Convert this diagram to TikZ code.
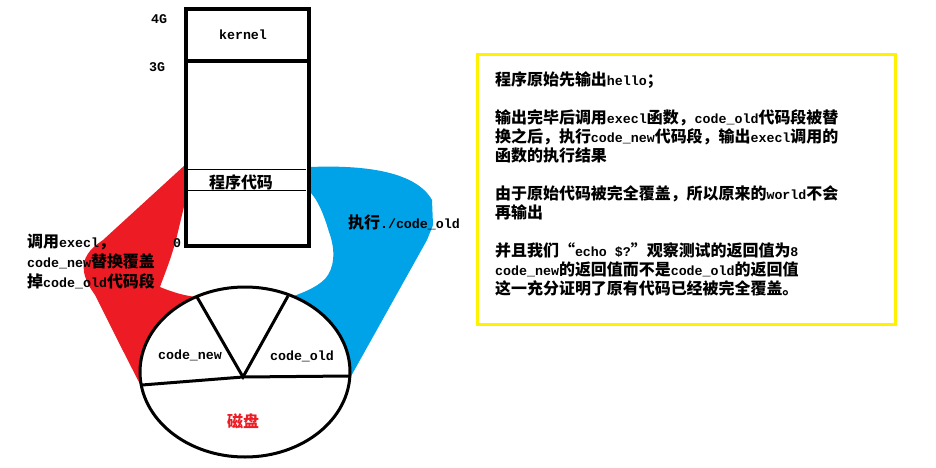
\documentclass[tikz,border=0pt]{standalone}
\usepackage{fontspec}
\setmainfont{Liberation Mono}
\newfontfamily\cjk{Noto Sans CJK SC}[Scale=1.2]
\newcommand\cn[1]{{\cjk #1}}
\definecolor{paintred}{RGB}{237,28,36}
\definecolor{paintblue}{RGB}{0,162,232}
\definecolor{paintyellow}{RGB}{255,242,0}

\begin{document}
\begin{tikzpicture}[x=1pt,y=-1pt,
    every node/.style={inner sep=0pt,font=\fontsize{13.3pt}{19pt}\selectfont\bfseries},
    wall/.style={line width=4pt},
    thin/.style={line width=1pt},
    disk/.style={line width=3pt,fill=white},
    note/.style={align=left,anchor=north west},
    frame/.style={draw=paintyellow,line width=3pt}]
    \useasboundingbox[fill=white] (0,0) rectangle (936,468);

    \fill[paintred] (185,165) -- (188,190) -- (176,240)
        .. controls (170,262) and (163,278) .. (160,287)
        .. controls (172,292) and (185,296) .. (197,297)
        arc[start angle=243,end angle=171,x radius=105,y radius=85]
        .. controls (125,355) and (105,315) .. (95,295)
        .. controls (88,285) and (82,275) .. (84,262)
        .. controls (88,250) and (96,245) .. (103,240) -- cycle;
    \fill[paintblue] (310,167) .. controls (360,165) and (415,170) .. (432,200)
        -- (433,225) -- (427,240) -- (350,378)
        arc[start angle=4,end angle=-63,x radius=105,y radius=85]
        .. controls (305,292) and (322,285) .. (328,275)
        .. controls (336,262) and (334,245) .. (329,232)
        .. controls (324,215) and (318,200) .. (310,192) -- cycle;

    \draw[wall] (185.5,9.5) rectangle (308.5,246);
    \draw[wall] (185.5,61.5) -- (308.5,61.5);
    \draw[thin] (187,169.5) -- (306,169.5);
    \draw[thin] (187,190.5) -- (306,190.5);
    \node (g4) at (159,19) {4G};
    \node (g3) at (157,67) {3G};
    \node (zero) at (177,243) {0};
    \node (kernel) at (243,35) {kernel};
    \node (text) at (241,182) {\cn{程序代码}};

    \draw[disk] (245,372) ellipse[x radius=105,y radius=85];
    \coordinate (hub) at (243,377);
    \coordinate (left) at (142,385);
    \coordinate (right) at (349,376);
    \coordinate (newtop) at (197,297);
    \coordinate (oldtop) at (288,296);
    \draw[line width=3pt] (left) -- (hub) -- (right);
    \draw[line width=3pt] (newtop) -- (hub) -- (oldtop);
    \node (new) at (190,355) {code\_new};
    \node (old) at (302,356) {code\_old};
    \node[text=paintred] (pan) at (243,421) {\cn{磁盘}};

    \node[note,font=\fontsize{13.3pt}{20pt}\selectfont\bfseries] (call) at (27,234)
        {\cn{调用}execl\cn{，}\\
        code\_new\cn{替换覆盖}\\
        \cn{掉}code\_old\cn{代码段}};
    \node (run) at (404,222) {\cn{执行}./code\_old};

    \draw[frame] (477.5,54.5) rectangle (895.5,324.5);
    \node[note] (story) at (495,71) {\cn{程序原始先输出}hello\cn{；}\\[19pt]
        \cn{输出完毕后调用}execl\cn{函数，}code\_old\cn{代码段被替}\\
        \cn{换之后，执行}code\_new\cn{代码段，输出}execl\cn{调用的}\\
        \cn{函数的执行结果}\\[19pt]
        \cn{由于原始代码被完全覆盖，所以原来的}world\cn{不会}\\
        \cn{再输出}\\[19pt]
        \cn{并且我们“}echo \$?\cn{”观察测试的返回值为}8\\
        code\_new\cn{的返回值而不是}code\_old\cn{的返回值}\\
        \cn{这一充分证明了原有代码已经被完全覆盖。}};
\end{tikzpicture}
\end{document}
